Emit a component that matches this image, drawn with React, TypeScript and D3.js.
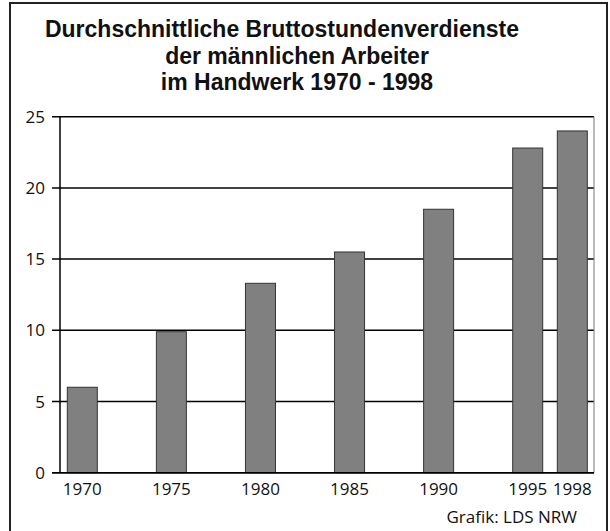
import { useEffect, useRef } from "react";
import * as d3 from "d3";

const years = [1970, 1975, 1980, 1985, 1990, 1995, 1998];
const values = [6.0, 9.9, 13.3, 15.5, 18.5, 22.8, 24.0];
const yTicks = [0, 5, 10, 15, 20, 25];
const titleLines = [
  "Durchschnittliche Bruttostundenverdienste",
  "der männlichen Arbeiter",
  "im Handwerk 1970 - 1998",
];
const source = "Grafik: LDS NRW";

export default function App() {
  const ref = useRef<SVGSVGElement>(null);

  useEffect(() => {
    const width = 610;
    const height = 531;
    const svg = d3.select(ref.current);
    svg.selectAll("*").remove();
    svg.attr("width", width).attr("height", height);

    // outer frame
    svg
      .append("rect")
      .attr("x", 10)
      .attr("y", 3)
      .attr("width", 597)
      .attr("height", 540)
      .attr("fill", "white")
      .attr("stroke", "#222")
      .attr("stroke-width", 2);

    svg
      .append("g")
      .selectAll("text")
      .data(titleLines)
      .join("text")
      .attr("x", (d, i) => (i === 0 ? 282 : 297))
      .attr("y", (d, i) => 37 + i * 26.5)
      .attr("text-anchor", "middle")
      .attr("font-family", "Liberation Sans, Arial, sans-serif")
      .attr("font-weight", "bold")
      .attr("font-size", 23)
      .attr("fill", "#111")
      .text((d) => d);

    const left = 60;
    const right = 594;
    const top = 116.7;
    const bottom = 472.7;

    const y = d3.scaleLinear().domain([0, 25]).range([bottom, top]);
    // 1998 sits closer to 1995 than the 5-year steps
    const x = d3
      .scaleLinear()
      .domain([1970, 1995, 1998])
      .range([82.3, 527.7, 572.3]);
    const barW = 30;

    // gridlines with tick stubs
    svg
      .append("g")
      .selectAll("line")
      .data(yTicks)
      .join("line")
      .attr("x1", 52)
      .attr("x2", right)
      .attr("y1", (d) => y(d))
      .attr("y2", (d) => y(d))
      .attr("stroke", "black")
      .attr("stroke-width", 1.5);

    svg
      .append("line")
      .attr("x1", right)
      .attr("x2", right)
      .attr("y1", top)
      .attr("y2", bottom)
      .attr("stroke", "#777")
      .attr("stroke-width", 1);

    svg
      .append("g")
      .selectAll("text")
      .data(yTicks)
      .join("text")
      .attr("x", 45)
      .attr("y", (d) => y(d) + 6)
      .attr("text-anchor", "end")
      .attr("font-family", "Open Sans, sans-serif")
      .attr("font-size", 17)
      .attr("fill", "#111")
      .text((d) => d);

    svg
      .append("g")
      .selectAll("rect")
      .data(values)
      .join("rect")
      .attr("x", (d, i) => x(years[i]) - barW / 2)
      .attr("y", (d) => y(d))
      .attr("width", barW)
      .attr("height", (d) => bottom - y(d))
      .attr("fill", "#808080")
      .attr("stroke", "#333")
      .attr("stroke-width", 1);

    // axis lines on top
    svg
      .append("line")
      .attr("x1", left)
      .attr("x2", left)
      .attr("y1", top)
      .attr("y2", bottom)
      .attr("stroke", "black")
      .attr("stroke-width", 1.5);
    svg
      .append("line")
      .attr("x1", 52)
      .attr("x2", right)
      .attr("y1", bottom)
      .attr("y2", bottom)
      .attr("stroke", "black")
      .attr("stroke-width", 1.5);

    svg
      .append("g")
      .selectAll("text")
      .data(years)
      .join("text")
      .attr("x", (d) => x(d))
      .attr("y", 495)
      .attr("text-anchor", "middle")
      .attr("font-family", "Open Sans, sans-serif")
      .attr("font-size", 17)
      .attr("fill", "#111")
      .text((d) => d);

    svg
      .append("text")
      .attr("x", 577)
      .attr("y", 523)
      .attr("text-anchor", "end")
      .attr("font-family", "Open Sans, sans-serif")
      .attr("font-size", 17)
      .attr("fill", "#111")
      .text(source);
  }, []);

  return (
    <svg
      ref={ref}
      style={{ position: "absolute", left: 0, top: 0, display: "block" }}
    />
  );
}
